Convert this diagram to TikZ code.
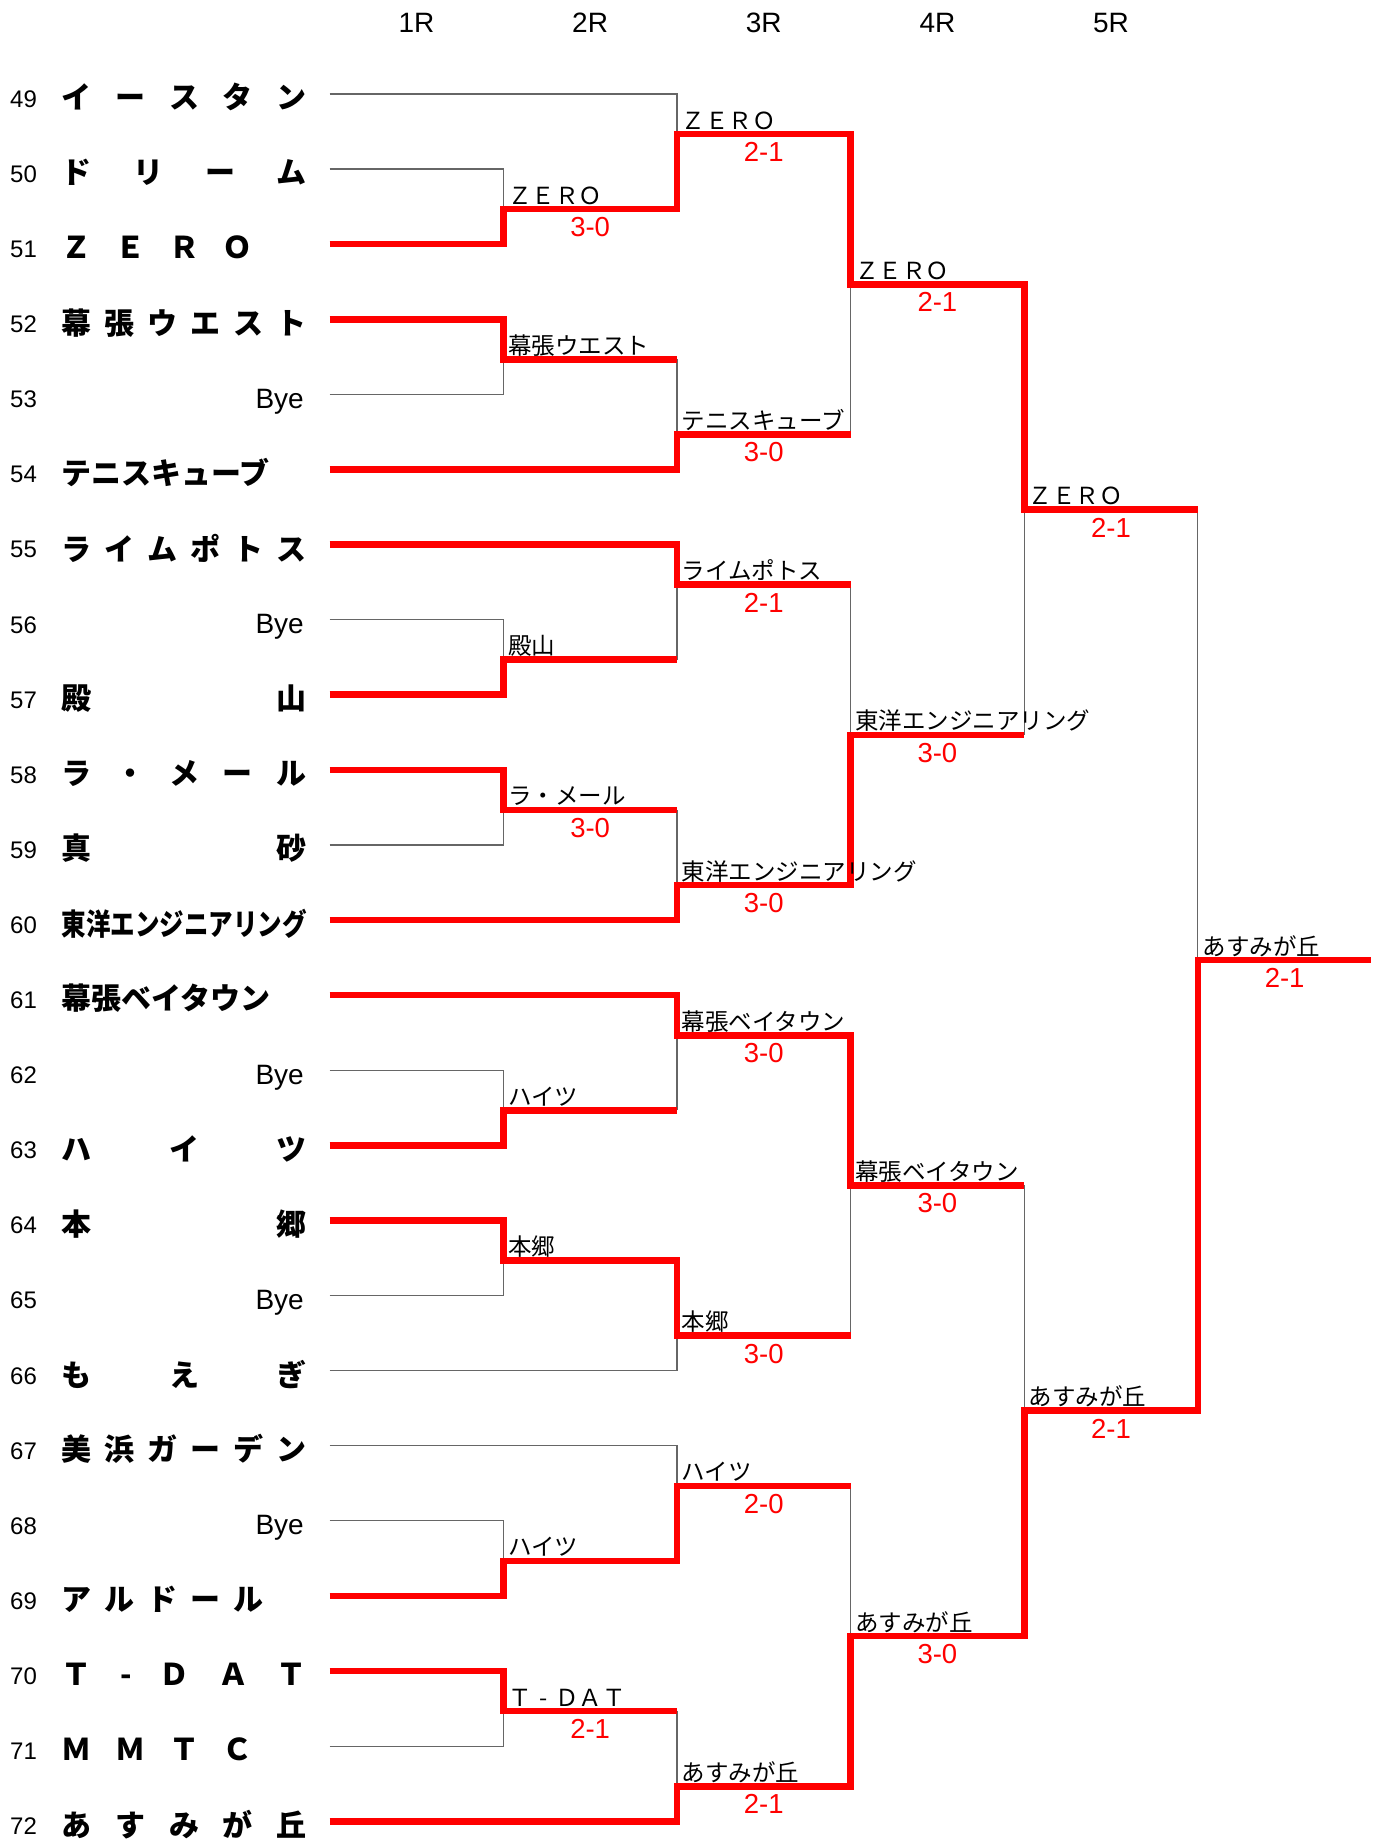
\documentclass[tikz,border=0pt]{standalone}
\usepackage{fontspec}
\usepackage{graphicx}
\setmainfont{Liberation Sans}
\newfontfamily\jp{Noto Sans CJK JP}
\tikzset{
  thinl/.style={draw=black!60, line width=1.2pt},
  win/.style={draw=red, line width=6.6pt, line join=miter},
  num/.style={anchor=base west, inner sep=0pt, font=\fontsize{24}{24}\selectfont},
  tname/.style={anchor=west, inner sep=0pt, font=\jp\bfseries\fontsize{30}{30}\selectfont},
  bye/.style={anchor=base east, inner sep=0pt, font=\fontsize{28}{28}\selectfont},
  hdr/.style={anchor=base, inner sep=0pt, font=\fontsize{28}{28}\selectfont},
  lbl/.style={anchor=base west, inner sep=0pt, font=\jp\fontsize{23.5}{23.5}\selectfont},
  score/.style={anchor=base, inner sep=0pt, text=red, font=\fontsize{27.5}{27.5}\selectfont},
}
% winner label with score
\newcommand\wlabel[4]{%
  \path (p#1-#2) ++(4.5,-5) node[lbl] (L#1-#2) {#3};
  \path (p#1-#2) ++(86.8,27.5) node[score] (S#1-#2) {#4};}
% winner label without score
\newcommand\wlabelonly[3]{%
  \path (p#1-#2) ++(4.5,-5) node[lbl] (L#1-#2) {#3};}
\newcommand\spread[1]{\makebox[245pt][s]{#1}}
\begin{document}
\begin{tikzpicture}[x=1pt,y=-1pt]
\useasboundingbox (0,0) rectangle (1382,1839);
% grid of coordinates
\foreach \c in {0,...,6}{
  \foreach \h in {0,...,46}{
    \pgfmathsetmacro\xx{329.7+\c*173.63}
    \pgfmathsetmacro\yy{93.9+\h*37.55+2.6*mod(\h,2)}
    \coordinate (p\c-\h) at (\xx,\yy);
  }
}
% headers
\node[hdr] (H1) at (416.5,32.7) {1R};
\node[hdr] (H2) at (590.1,32.7) {2R};
\node[hdr] (H3) at (763.7,32.7) {3R};
\node[hdr] (H4) at (937.4,32.7) {4R};
\node[hdr] (H5) at (1111.0,32.7) {5R};
% numbers
\foreach \i in {49,...,72}{
  \pgfmathsetmacro\yy{93.9+(\i-49)*75.1+13.4}
  \node[num] (k\i) at (10,\yy) {\i};
}
% team names
\newcommand\tn[2]{\node[tname] (t#1) at (61.5,{93.9+(#1-49)*75.1+3.5}) {#2};}
\newcommand\tb[1]{\node[bye] (t#1) at (304,{93.9+(#1-49)*75.1+14}) {Bye};}
\tn{49}{\spread{イ\hfil ー\hfil ス\hfil タ\hfil ン}}
\tn{50}{\spread{ド\hfil リ\hfil ー\hfil ム}}
\tn{51}{\spread{Ｚ\hfil Ｅ\hfil Ｒ\hfil Ｏ\hfil \phantom{Ｏ}}}
\tn{52}{\spread{幕\hfil 張\hfil ウ\hfil エ\hfil ス\hfil ト}}
\tb{53}
\tn{54}{テニスキューブ}
\tn{55}{\spread{ラ\hfil イ\hfil ム\hfil ポ\hfil ト\hfil ス}}
\tb{56}
\tn{57}{\spread{殿\hfil 山}}
\tn{58}{\spread{ラ\hfil ・\hfil メ\hfil ー\hfil ル}}
\tn{59}{\spread{真\hfil 砂}}
\tn{60}{\scalebox{0.817}[1]{東洋エンジニアリング}}
\tn{61}{幕張ベイタウン}
\tb{62}
\tn{63}{\spread{ハ\hfil イ\hfil ツ}}
\tn{64}{\spread{本\hfil 郷}}
\tb{65}
\tn{66}{\spread{も\hfil え\hfil ぎ}}
\tn{67}{\spread{美\hfil 浜\hfil ガ\hfil ー\hfil デ\hfil ン}}
\tb{68}
\tn{69}{\spread{ア\hfil ル\hfil ド\hfil ー\hfil ル\hfil \phantom{ル}}}
\tn{70}{\spread{Ｔ\hfil -\hfil Ｄ\hfil Ａ\hfil Ｔ}}
\tn{71}{\spread{Ｍ\hfil Ｍ\hfil Ｔ\hfil Ｃ\hfil \phantom{Ｃ}}}
\tn{72}{\spread{あ\hfil す\hfil み\hfil が\hfil 丘}}
% thin (losing) lines
\draw[thinl] (p0-0) -- (p2-0) -- (p2-1);
\draw[thinl] (p0-2) -- (p1-2) -- (p1-3);
\draw[thinl] (p0-8) -- (p1-8) -- (p1-7);
\draw[thinl] (p0-14) -- (p1-14) -- (p1-15);
\draw[thinl] (p0-20) -- (p1-20) -- (p1-19);
\draw[thinl] (p0-26) -- (p1-26) -- (p1-27);
\draw[thinl] (p0-32) -- (p1-32) -- (p1-31);
\draw[thinl] (p0-34) -- (p2-34) -- (p2-33);
\draw[thinl] (p0-36) -- (p2-36) -- (p2-37);
\draw[thinl] (p0-38) -- (p1-38) -- (p1-39);
\draw[thinl] (p0-44) -- (p1-44) -- (p1-43);
\draw[thinl] (p2-7) -- (p2-9);
\draw[thinl] (p2-15) -- (p2-13);
\draw[thinl] (p2-19) -- (p2-21);
\draw[thinl] (p2-27) -- (p2-25);
\draw[thinl] (p2-43) -- (p2-45);
\draw[thinl] (p3-9) -- (p3-5);
\draw[thinl] (p3-13) -- (p3-17);
\draw[thinl] (p3-33) -- (p3-29);
\draw[thinl] (p3-37) -- (p3-41);
\draw[thinl] (p4-17) -- (p4-11);
\draw[thinl] (p4-29) -- (p4-35);
\draw[thinl] (p5-11) -- (p5-23);
% winning paths
\draw[win] (p0-4) -- (p1-4) -- (p1-3) -- (p2-3) -- (p2-1) -- (p3-1) -- (p3-5) -- (p4-5) -- (p4-11) -- (p5-11);
\draw[win] (p0-6) -- (p1-6) -- (p1-7) -- (p2-7);
\draw[win] (p0-10) -- (p2-10) -- (p2-9) -- (p3-9);
\draw[win] (p0-12) -- (p2-12) -- (p2-13) -- (p3-13);
\draw[win] (p0-16) -- (p1-16) -- (p1-15) -- (p2-15);
\draw[win] (p0-18) -- (p1-18) -- (p1-19) -- (p2-19);
\draw[win] (p0-22) -- (p2-22) -- (p2-21) -- (p3-21) -- (p3-17) -- (p4-17);
\draw[win] (p0-24) -- (p2-24) -- (p2-25) -- (p3-25) -- (p3-29) -- (p4-29);
\draw[win] (p0-28) -- (p1-28) -- (p1-27) -- (p2-27);
\draw[win] (p0-30) -- (p1-30) -- (p1-31) -- (p2-31) -- (p2-33) -- (p3-33);
\draw[win] (p0-40) -- (p1-40) -- (p1-39) -- (p2-39) -- (p2-37) -- (p3-37);
\draw[win] (p0-42) -- (p1-42) -- (p1-43) -- (p2-43);
\draw[win] (p0-46) -- (p2-46) -- (p2-45) -- (p3-45) -- (p3-41) -- (p4-41) -- (p4-35) -- (p5-35) -- (p5-23) -- (p6-23);
% results
\wlabel{1}{3}{ＺＥＲＯ}{3-0}
\wlabelonly{1}{7}{幕張ウエスト}
\wlabelonly{1}{15}{殿山}
\wlabel{1}{19}{ラ・メール}{3-0}
\wlabelonly{1}{27}{ハイツ}
\wlabelonly{1}{31}{本郷}
\wlabelonly{1}{39}{ハイツ}
\wlabel{1}{43}{Ｔ\makebox[1em]{-}ＤＡＴ}{2-1}
\wlabel{2}{1}{ＺＥＲＯ}{2-1}
\wlabel{2}{9}{テニスキューブ}{3-0}
\wlabel{2}{13}{ライムポトス}{2-1}
\wlabel{2}{21}{東洋エンジニアリング}{3-0}
\wlabel{2}{25}{幕張ベイタウン}{3-0}
\wlabel{2}{33}{本郷}{3-0}
\wlabel{2}{37}{ハイツ}{2-0}
\wlabel{2}{45}{あすみが丘}{2-1}
\wlabel{3}{5}{ＺＥＲＯ}{2-1}
\wlabel{3}{17}{東洋エンジニアリング}{3-0}
\wlabel{3}{29}{幕張ベイタウン}{3-0}
\wlabel{3}{41}{あすみが丘}{3-0}
\wlabel{4}{11}{ＺＥＲＯ}{2-1}
\wlabel{4}{35}{あすみが丘}{2-1}
\wlabel{5}{23}{あすみが丘}{2-1}
\end{tikzpicture}
\end{document}
